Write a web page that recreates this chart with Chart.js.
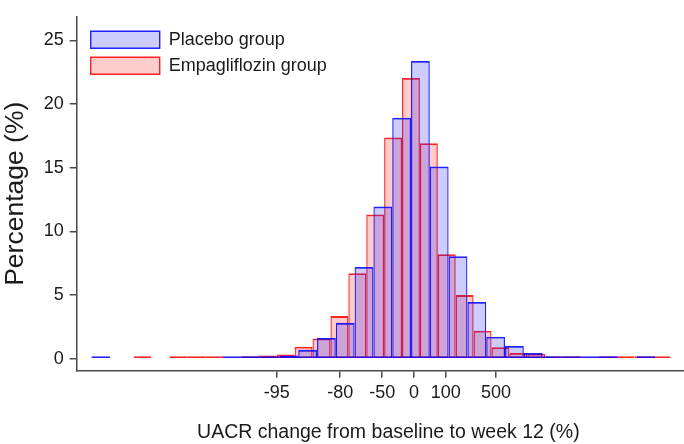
<!DOCTYPE html>
<html>
<head>
<meta charset="utf-8">
<script src="https://cdn.jsdelivr.net/npm/chart.js@4.4.1/dist/chart.umd.min.js"></script>
<style>
  html, body { margin: 0; padding: 0; overflow: hidden; background: #ffffff; }
  #wrap { width: 700px; height: 444px; }
</style>
</head>
<body>
<div id="wrap"><canvas id="c" width="700" height="444"></canvas></div>
<script>
// Histogram of UACR change, binned on the natural log of the week-12/baseline ratio.
// Each group has 30 equal-width bins; values are percentage of patients per bin
// (null = empty bin).
const placeboBinStart = -7.040;
const placeboBinWidth = 0.4104;
const placeboPct = [0.03, null, null, null, null, null, null, 0.03, 0.03, 0.17,
                    0.25, 0.7, 1.63, 2.82, 7.2, 11.96, 18.92, 23.38, 15.1, 8.05,
                    4.46, 1.73, 1.0, 0.45, 0.17, 0.07, 0.03, 0.03, null, 0.1];

const empaBinStart = -6.120;
const empaBinWidth = 0.3907;
const empaPct = [0.03, null, 0.03, 0.03, 0.03, null, 0.03, 0.25, 0.33, 0.95,
                 1.6, 3.35, 6.72, 11.33, 17.38, 22.04, 16.93, 8.2, 5.0, 2.2,
                 0.9, 0.45, 0.4, 0.15, 0.05, null, 0.03, 0.03, 0.03, 0.03];

// Axis ticks: x labelled as percent change, placed at log(1 + change/100)
const xTickChanges = [-95, -80, -50, 0, 100, 500];
const yTickValues = [0, 5, 10, 15, 20, 25];
const xRange = [-7.361, 6.245];
const yRange = [-0.938, 26.85];

const axisColor = '#4a4a4a';
const textColor = '#1a1a1a';
Chart.defaults.font.family = "'Liberation Sans', Arial, sans-serif";
Chart.defaults.color = textColor;

const toLogRatio = p => Math.log(1 + p / 100);

// One point per bin, centred in the bin
function binPoints(start, width, pct) {
  return pct.map((v, i) => ({ x: start + (i + 0.5) * width, y: v }));
}

const xTicks = () => xTickChanges.map(p => ({ value: toLogRatio(p) }));

// Put the legend column in the upper-left corner of the plot
const legendPlacement = {
  id: 'legendPlacement',
  afterLayout(chart) {
    const lg = chart.legend, a = chart.chartArea;
    if (!lg) return;
    lg.left = a.left + 6;
    lg.top = a.top + 6;
    lg.right = lg.left + lg.width;
    lg.bottom = lg.top + lg.height;
  }
};

const axisGrid = {
  display: true, drawOnChartArea: false, drawTicks: true, offset: false,
  tickLength: 7, color: axisColor, lineWidth: 1.5
};
const axisBorder = { display: true, color: axisColor, width: 1.5 };

// Overlaid (ungrouped) bars; thickness is set to the bin width once the scale is laid out
const barStyle = {
  grouped: false,
  barThickness: 1,
  borderWidth: { top: 1.8, bottom: 1.5, left: 1.25, right: 1.25 },
  borderSkipped: false,
  minBarLength: 2.4,
  inflateAmount: 0
};

const chart = new Chart(document.getElementById('c'), {
  type: 'bar',
  data: {
    datasets: [
      Object.assign({
        label: 'Placebo group',
        data: binPoints(placeboBinStart, placeboBinWidth, placeboPct),
        xAxisID: 'x',
        backgroundColor: 'rgba(0, 0, 255, 0.2)',
        borderColor: 'rgba(0, 0, 255, 0.86)'
      }, barStyle),
      Object.assign({
        label: 'Empagliflozin group',
        data: binPoints(empaBinStart, empaBinWidth, empaPct),
        xAxisID: 'x2',
        backgroundColor: 'rgba(255, 0, 0, 0.2)',
        borderColor: 'rgba(255, 0, 0, 0.86)'
      }, barStyle)
    ]
  },
  options: {
    responsive: false,
    animation: false,
    layout: { padding: { top: 3.3, right: 0, bottom: 0, left: 0 } },
    plugins: {
      tooltip: { enabled: false },
      legend: {
        position: 'chartArea',
        align: 'start',
        labels: {
          boxWidth: 69, boxHeight: 17, padding: 8,
          font: { size: 18 }, color: textColor
        }
      }
    },
    scales: {
      x: {
        type: 'linear', position: 'bottom', offset: false,
        min: xRange[0], max: xRange[1],
        afterBuildTicks: s => { s.ticks = xTicks(); },
        ticks: {
          callback: (v, i) => String(xTickChanges[i]),
          font: { size: 18 }, color: textColor, padding: 5,
          maxRotation: 0, autoSkip: false
        },
        grid: axisGrid,
        border: axisBorder,
        title: {
          display: true,
          text: 'UACR change from baseline to week 12 (%)',
          font: { size: 19.5 }, color: textColor,
          padding: { top: 0, bottom: 0 }
        },
        afterFit: s => { s.height = 73.3; }
      },
      x2: {
        type: 'linear', position: 'bottom', display: false, offset: false,
        min: xRange[0], max: xRange[1],
        grid: { offset: false },
        afterBuildTicks: s => { s.ticks = xTicks(); }
      },
      y: {
        type: 'linear', stacked: false,
        min: yRange[0], max: yRange[1],
        afterBuildTicks: s => { s.ticks = yTickValues.map(v => ({ value: v })); },
        ticks: { font: { size: 18 }, color: textColor, padding: 6 },
        grid: axisGrid,
        border: axisBorder,
        title: {
          display: true, text: 'Percentage (%)',
          font: { size: 26.5 }, color: textColor, padding: 0
        },
        afterFit: s => { s.width = 76.7; }
      }
    }
  },
  plugins: [legendPlacement]
});

// Each bar spans exactly one bin: convert the bin widths to pixels on the x scale
const sx = chart.scales.x;
const pxPerUnit = sx.getPixelForValue(1) - sx.getPixelForValue(0);
chart.data.datasets[0].barThickness = placeboBinWidth * pxPerUnit;
chart.data.datasets[1].barThickness = empaBinWidth * pxPerUnit;
chart.update();
</script>
</body>
</html>
